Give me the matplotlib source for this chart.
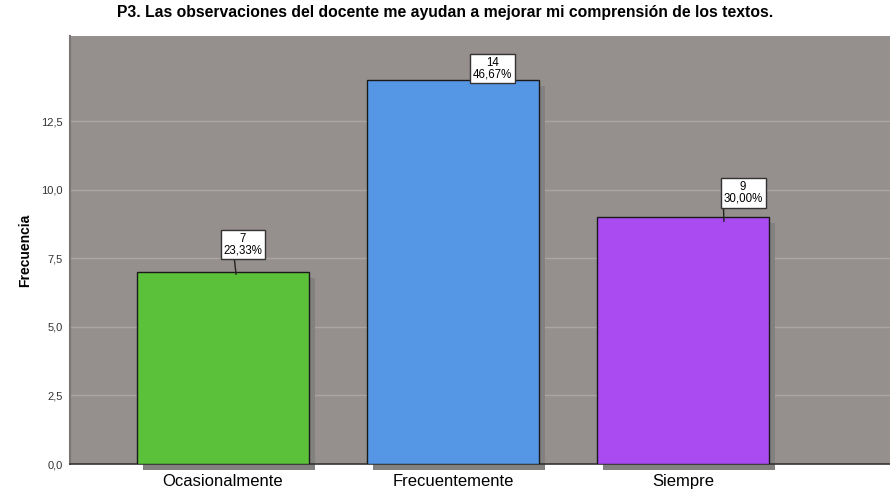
import matplotlib
matplotlib.use("Agg")
import matplotlib.pyplot as plt
from matplotlib.ticker import FuncFormatter

categorias = ["Ocasionalmente", "Frecuentemente", "Siempre"]
frecuencias = [7, 14, 9]
porcentajes = ["23,33%", "46,67%", "30,00%"]
colores = ["#5cc13a", "#5596e5", "#a94bf0"]

plt.rcParams["font.family"] = ["Liberation Sans", "DejaVu Sans"]

fig = plt.figure(figsize=(8.9, 4.9), dpi=100)
ax = fig.add_axes([70 / 890, 1 - 464 / 490, 820 / 890, (464 - 36) / 490])
ax.set_facecolor("#958f8d")

x = range(len(categorias))
ancho = 0.75
# sombra de las barras
ax.bar([i + 0.027 for i in x], frecuencias, width=ancho, bottom=-0.22,
       color="#838080", zorder=2, clip_on=False)
ax.bar(x, frecuencias, width=ancho, color=colores, edgecolor="#1a1a1a",
       linewidth=1, zorder=3)

ax.set_xlim(-0.665, 2.9)
ax.set_ylim(0, 15.6)
ax.set_yticks([0, 2.5, 5, 7.5, 10, 12.5])
ax.yaxis.set_major_formatter(FuncFormatter(lambda v, p: f"{v:.1f}".replace(".", ",")))
ax.grid(axis="y", color="#aba6a4", linewidth=1, zorder=1)
ax.set_axisbelow(True)
ax.tick_params(axis="y", length=0, labelsize=8, labelcolor="#333333", pad=5)
ax.set_xticks(list(x))
ax.set_xticklabels(categorias, fontsize=12)
ax.tick_params(axis="x", length=0, pad=7)

for s in ["top", "right"]:
    ax.spines[s].set_visible(False)
ax.spines["left"].set_color("#7a7675")
ax.spines["left"].set_linewidth(1.5)
ax.spines["bottom"].set_color("#333333")
ax.spines["bottom"].set_linewidth(1.2)

# etiquetas con recuadro: posicion del recuadro y extremo de la linea guia
cajas = [(0.087, 8.0), (1.172, 14.41), (2.261, 9.88)]
guias = [(0.057, 6.91), None, (2.178, 8.84)]
relpos = [(0.27, 0), None, (0.0, 0)]
for i, (f, p) in enumerate(zip(frecuencias, porcentajes)):
    if guias[i] is None:
        ax.text(cajas[i][0], cajas[i][1], f"{f}\n{p}", ha="center", va="center",
                fontsize=8.3, linespacing=0.95, zorder=5,
                bbox=dict(boxstyle="square,pad=0.25", fc="white", ec="#333333", lw=1))
        continue
    ax.annotate(f"{f}\n{p}", xy=guias[i], xytext=cajas[i], textcoords="data",
                ha="center", va="center", fontsize=8.3, linespacing=0.95,
                bbox=dict(boxstyle="square,pad=0.25", fc="white", ec="#333333", lw=1),
                arrowprops=dict(arrowstyle="-", color="#222222", lw=1,
                                shrinkA=0, shrinkB=0, relpos=relpos[i]),
                zorder=5)

ax.set_ylabel("Frecuencia", fontsize=10, fontweight="bold", labelpad=7)
fig.text(0.5, 0.975, "P3. Las observaciones del docente me ayudan a mejorar mi comprensión de los textos.",
         ha="center", va="center", fontsize=11.3, fontweight="bold")

fig.savefig("out.png", dpi=100)
